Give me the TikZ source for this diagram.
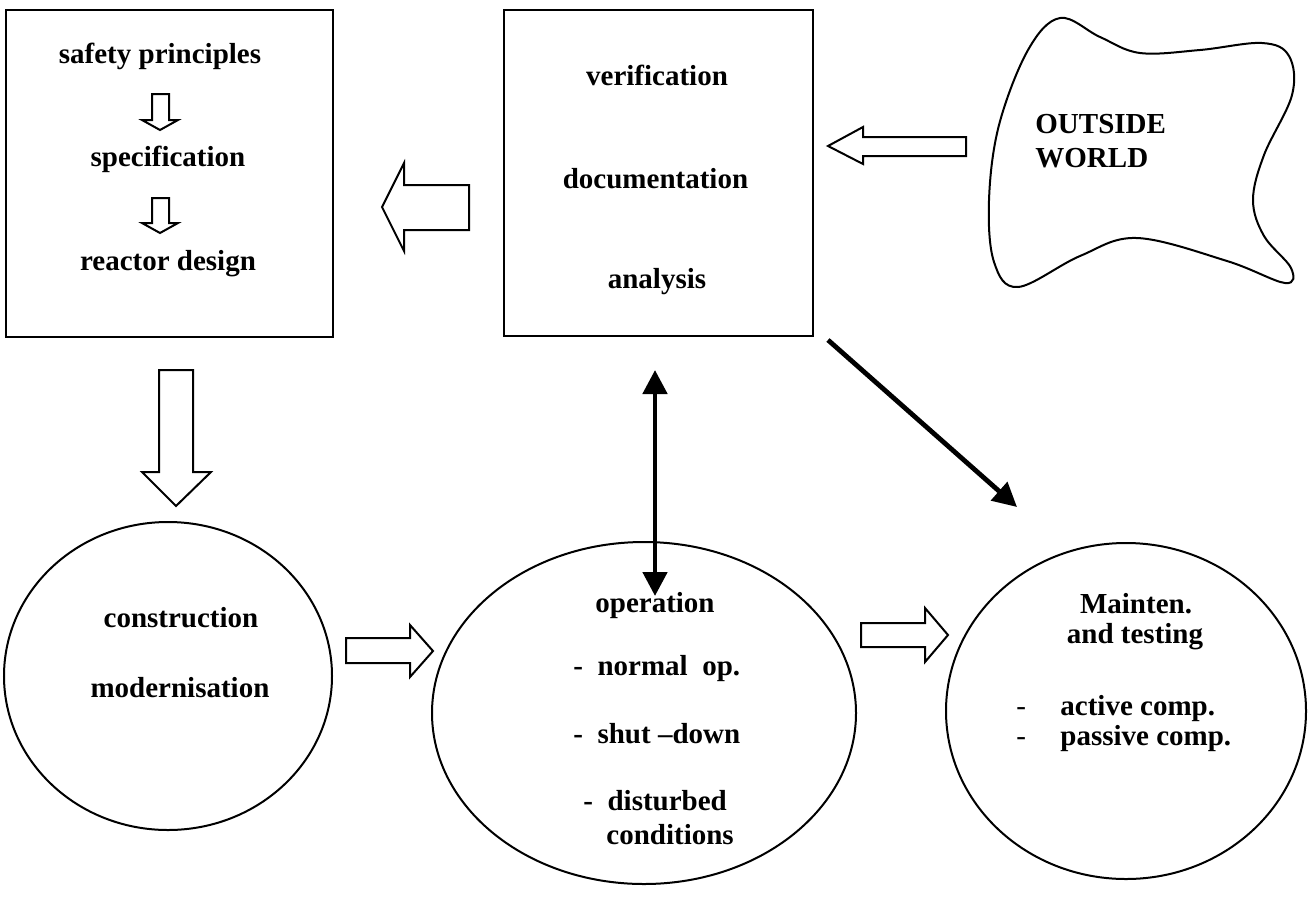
\documentclass[tikz,border=0pt]{standalone}
\usepackage{fontspec}
\setmainfont{Liberation Serif}
\usetikzlibrary{arrows.meta,shapes.geometric}

\tikzset{
  lbl/.style={font=\fontsize{14.5}{17}\selectfont\bfseries, inner sep=0pt, anchor=base},
  lblw/.style={lbl, anchor=base west},
  frame/.style={draw, line width=1pt},
  oval/.style={draw, line width=1pt, ellipse, inner sep=0pt},
  hollow/.style={draw, line width=1pt, fill=white, line join=miter},
  thick arrow/.style={line width=2.4pt, -{Triangle[length=12pt,width=12pt]}},
  both arrow/.style={line width=2.4pt, {Triangle[length=12pt,width=12pt]}-{Triangle[length=12pt,width=12pt]}}
}

\begin{document}
\begin{tikzpicture}[x=0.5pt,y=-0.5pt]
\useasboundingbox (0,0) rectangle (1315,900);

% ---- rectangular boxes
\node[frame, minimum width=163.5pt, minimum height=163.5pt, anchor=north west] (design) at (5,9) {};
\node[frame, minimum width=154.5pt, minimum height=163pt, anchor=north west] (verif) at (503,9) {};

% ---- text of the design box
\node[lbl] (t1) at (160,63) {safety principles};
\node[lbl] (t2) at (168,166) {specification};
\node[lbl] (t3) at (168,270) {reactor design};

% small hollow arrows inside the design box
\draw[hollow] (152,94) -- (169,94) -- (169,120) -- (178,120) -- (160,130) -- (142,120) -- (152,120) -- cycle;
\draw[hollow] (152,198) -- (169,198) -- (169,223) -- (178,223) -- (160,233) -- (142,223) -- (152,223) -- cycle;

% ---- text of the verification box
\node[lbl] (v1) at (657,85) {verification};
\node[lbl] (v2) at (655.5,188) {documentation};
\node[lbl] (v3) at (657,288) {analysis};

% ---- outside world
\draw[line width=1pt] plot[smooth cycle, tension=0.6] coordinates {
  (1060,18) (1100,37) (1140,53) (1200,50) (1262,43) (1289,56) (1292,95)
  (1264,155) (1253,200) (1264,236) (1291,268) (1285,283) (1227,261)
  (1137,238) (1080,256) (1018,287) (994,262) (989,200) (999,125) (1028,50)};
\node[lblw] (w1) at (1035,133) {OUTSIDE};
\node[lblw] (w2) at (1035,167) {WORLD};

% ---- hollow block arrows
\draw[hollow] (966,137) -- (863,137) -- (863,127) -- (828,146) -- (863,164) -- (863,156) -- (966,156) -- cycle;
\draw[hollow] (469,185) -- (404,185) -- (404,163) -- (382,207) -- (404,251) -- (404,230) -- (469,230) -- cycle;
\draw[hollow] (159,370) -- (193,370) -- (193,472) -- (211,472) -- (176,506) -- (142,472) -- (159,472) -- cycle;
\draw[hollow] (346,638) -- (410,638) -- (410,625) -- (433,651) -- (410,677) -- (410,663) -- (346,663) -- cycle;
\draw[hollow] (861,623) -- (925,623) -- (925,608) -- (948,635) -- (925,662) -- (925,647) -- (861,647) -- cycle;

% ---- ellipses
\node[oval, minimum width=164pt, minimum height=154pt] (constr) at (168,676) {};
\node[oval, minimum width=212pt, minimum height=171pt] (oper) at (644,713) {};
\node[oval, minimum width=180pt, minimum height=168pt] (maint) at (1126,711) {};

\node[lbl] (c1) at (181,627) {construction};
\node[lbl] (c2) at (180,697) {modernisation};

\node[lbl] (o1) at (655,612) {operation};
\node[lblw] (o2) at (573,675) {-\ \ normal\ \ op.};
\node[lblw] (o3) at (573,743) {-\ \ shut –down};
\node[lblw] (o4) at (583,810) {-\ \ disturbed};
\node[lblw] (o5) at (606,844) {conditions};

\node[lbl] (m1) at (1136,613) {Mainten.};
\node[lbl] (m2) at (1135,643) {and testing};
\node[lblw, font=\fontsize{14.5}{17}\selectfont] (md1) at (1016,715) {-};
\node[lblw] (m3) at (1060,715) {active comp.};
\node[lblw, font=\fontsize{14.5}{17}\selectfont] (md2) at (1016,745) {-};
\node[lblw] (m4) at (1060,745) {passive comp.};

% ---- line arrows
\coordinate (up) at (655,370);
\coordinate (down) at (655,596);
\draw[both arrow] (up) -- (down);
\coordinate (diagA) at (828,340);
\coordinate (diagB) at (1017,507);
\draw[thick arrow] (diagA) -- (diagB);
\end{tikzpicture}
\end{document}
